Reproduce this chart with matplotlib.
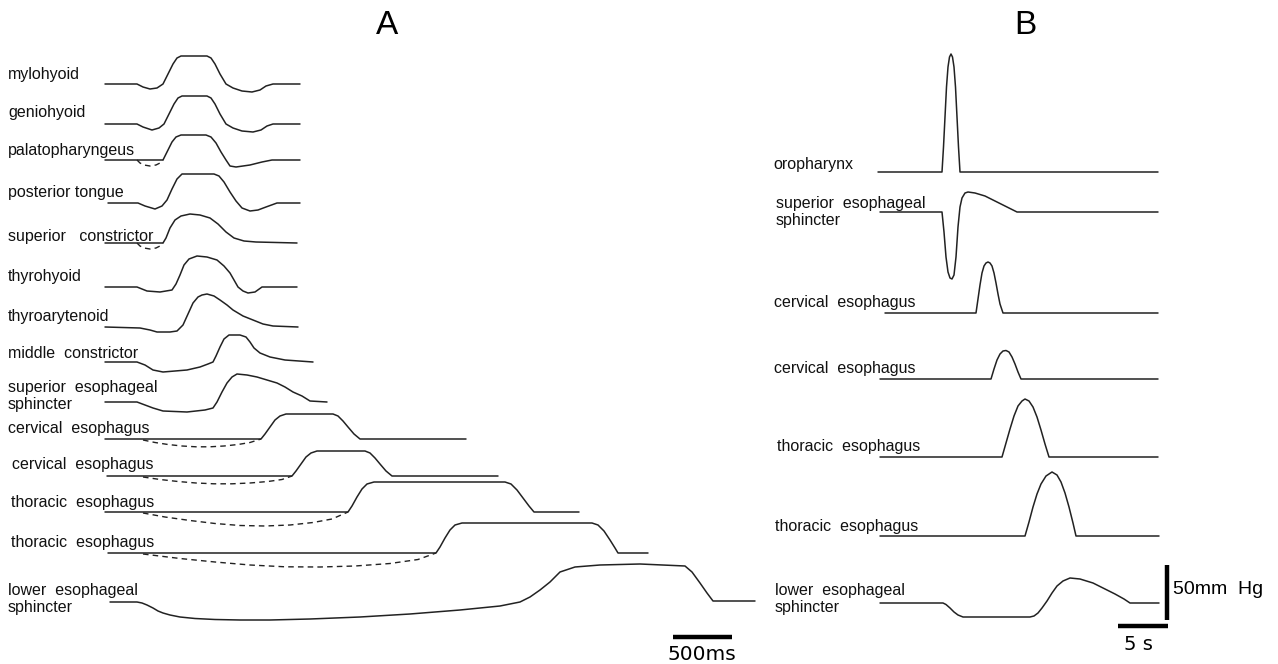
import matplotlib
matplotlib.use('Agg')
import matplotlib.pyplot as plt

plt.rcParams['font.family'] = ['Liberation Sans', 'DejaVu Sans']

# ---- panel A: pressure/EMG traces (x in px-time, amplitude up) ----
a_labels = [
    'mylohyoid', 'geniohyoid', 'palatopharyngeus', 'posterior tongue',
    'superior   constrictor', 'thyrohyoid', 'thyroarytenoid',
    'middle  constrictor', 'superior  esophageal\nsphincter',
    'cervical  esophagus', 'cervical  esophagus', 'thoracic  esophagus',
    'thoracic  esophagus', 'lower  esophageal\nsphincter',
]
a_times = [
    [105, 137, 143, 150, 157, 163, 168, 173, 177, 181, 207, 211, 215, 220, 226, 233, 242, 252, 260, 266, 273, 300],
    [105, 137, 143, 152, 159, 164, 169, 174, 178, 182, 207, 211, 215, 220, 226, 233, 242, 253, 261, 267, 273, 300],
    [105, 163, 167, 172, 176, 181, 206, 211, 216, 221, 226, 230, 236, 250, 262, 272, 300],
    [108, 138, 145, 155, 162, 167, 172, 177, 182, 214, 219, 224, 230, 236, 242, 250, 258, 266, 277, 300],
    [105, 163, 166, 170, 175, 181, 190, 200, 210, 218, 226, 234, 244, 256, 297],
    [105, 137, 147, 160, 172, 176, 180, 184, 189, 197, 207, 217, 224, 230, 234, 238, 243, 248, 255, 262, 297],
    [105, 140, 150, 157, 170, 177, 183, 188, 193, 198, 202, 207, 214, 220, 227, 233, 243, 253, 263, 273, 298],
    [105, 137, 145, 153, 163, 175, 187, 200, 208, 213, 216, 220, 224, 229, 240, 246, 250, 254, 260, 270, 285, 313],
    [105, 137, 145, 153, 163, 187, 205, 213, 217, 222, 227, 232, 237, 247, 257, 267, 277, 285, 293, 302, 310, 327],
    [105, 261, 265, 270, 275, 280, 286, 333, 338, 343, 348, 354, 360, 466],
    [107, 292, 296, 301, 306, 311, 317, 365, 370, 375, 380, 386, 392, 498],
    [105, 348, 352, 357, 362, 367, 374, 505, 511, 517, 523, 529, 534, 579],
    [108, 436, 440, 445, 450, 455, 462, 592, 598, 604, 610, 615, 618, 648],
    [110, 137, 142, 147, 153, 158, 163, 170, 180, 195, 215, 240, 270, 310, 360, 410, 460, 500, 520, 530, 540,
     550, 560, 575, 600, 640, 685, 692, 700, 707, 713, 755],
]
a_values = [
    [0, 0, -3, -5, -4, 0, 10, 20, 26, 28, 28, 26, 20, 10, 0, -4, -7, -8, -6, -2, 0, 0],
    [0, 0, -3, -6, -4, 0, 10, 20, 26, 28, 28, 26, 20, 10, 0, -4, -7, -8, -6, -2, 0, 0],
    [0, 0, 8, 18, 23, 25, 25, 23, 17, 8, 0, -6, -7, -5, -2, 0, 0],
    [0, 0, -3, -6, -3, 3, 14, 24, 29, 29, 27, 21, 11, 2, -5, -8, -7, -4, 0, 0],
    [0, 0, 5, 15, 23, 27, 29, 28, 25, 19, 11, 5, 2, 1, 0],
    [0, 0, -4, -5, -3, 3, 12, 22, 28, 31, 30, 27, 21, 14, 7, 0, -4, -6, -5, 0, 0],
    [0, -1, -3, -5, -5, -4, 2, 13, 24, 30, 32, 33, 31, 27, 22, 17, 11, 7, 3, 1, 0],
    [0, 0, -3, -8, -10, -9, -8, -5, -2, 0, 6, 15, 23, 27, 27, 25, 20, 14, 9, 5, 2, 0],
    [0, 0, -3, -6, -9, -10, -8, -6, 0, 10, 19, 25, 28, 27, 25, 22, 19, 15, 10, 6, 1, 0],
    [0, 0, 5, 12, 19, 23, 25, 25, 23, 18, 12, 5, 0, 0],
    [0, 0, 5, 12, 19, 23, 25, 25, 23, 18, 12, 5, 0, 0],
    [0, 0, 6, 15, 23, 28, 30, 30, 28, 22, 14, 6, 0, 0],
    [0, 0, 6, 15, 23, 28, 30, 30, 28, 22, 13, 5, 0, 0],
    [0, 0, -1, -3, -6, -9, -11, -13, -15, -16.5, -17.5, -18, -18, -17, -15, -12, -8, -4, 0, 5, 12,
     20, 30, 35, 37, 38, 36, 30, 19, 9, 1, 1],
]
# dashed "inhibition" curves, keyed by trace index
a_dash_times = {
    2: [137, 140, 144, 150, 156, 160, 163],
    4: [137, 140, 144, 150, 156, 160, 163],
    9: [143, 155, 168, 182, 196, 210, 224, 238, 250, 261],
    10: [143, 160, 178, 196, 214, 232, 250, 268, 282, 292],
    11: [143, 165, 190, 215, 240, 265, 290, 313, 332, 348],
    12: [143, 180, 215, 250, 285, 320, 355, 390, 418, 436],
}
a_dash_values = {
    2: [0, -3, -5, -6, -5, -3, 0],
    4: [0, -3, -5, -6, -5, -3, 0],
    9: [-1, -3.5, -5.5, -7, -7.8, -7.8, -7, -5.5, -3.5, 0],
    10: [-1, -3.5, -5.5, -7, -7.8, -7.8, -7, -5.5, -3.5, 0],
    11: [-1, -5, -8.5, -11.5, -13.5, -14, -13, -10.5, -7, 0],
    12: [-1, -5.5, -9, -12, -13.8, -14, -13, -10.5, -6.5, 0],
}

# ---- panel B: manometry traces ----
b_labels = [
    'oropharynx', 'superior  esophageal\nsphincter', 'cervical  esophagus',
    'cervical  esophagus', 'thoracic  esophagus', 'thoracic  esophagus',
    'lower  esophageal\nsphincter',
]
b_times = [
    [878, 942, 943.5, 945, 946.5, 948, 949.5, 951, 952.5, 954, 955.5, 957, 958.5, 960, 1158],
    [880, 942, 944, 946, 948, 950, 952, 954, 956, 958, 960, 962, 965, 968, 975, 985, 993, 1005, 1017, 1158],
    [885, 976, 978, 980, 982, 984, 986, 988, 990, 992, 994, 996, 998, 1000, 1003, 1158],
    [880, 991, 994, 997, 1000, 1003, 1006, 1009, 1012, 1015, 1018, 1021, 1158],
    [880, 1002, 1006, 1010, 1014, 1018, 1022, 1025, 1029, 1033, 1037, 1041, 1045, 1049, 1158],
    [880, 1025, 1029, 1033, 1037, 1041, 1046, 1052, 1057, 1061, 1065, 1069, 1073, 1076, 1159],
    [880, 943, 946, 950, 954, 958, 963, 1030, 1034, 1038, 1042, 1047, 1052, 1057, 1063, 1070, 1080, 1093,
     1105, 1115, 1124, 1130, 1159],
]
b_values = [
    [0, 0, 25, 55, 85, 105, 115, 118, 115, 105, 85, 55, 25, 0, 0],
    [0, 0, -20, -45, -60, -66, -67, -63, -45, -15, 5, 14, 19, 20, 19, 16, 12, 6, 0, 0],
    [0, 0, 14, 28, 40, 47, 50, 51, 50, 47, 40, 30, 19, 9, 0, 0],
    [0, 0, 10, 19, 25, 28, 28.5, 27, 22, 15, 7, 0, 0],
    [0, 0, 14, 28, 41, 51, 56, 58, 56, 50, 40, 27, 13, 0, 0],
    [0, 0, 14, 29, 42, 52, 60, 64, 61, 54, 43, 29, 13, 0, 0],
    [0, 0, -1.5, -5, -9, -12, -14, -14, -13, -10, -5, 2, 10, 17, 22, 25, 24, 20, 14, 9, 4, 0, 0],
]

# layout (figure pixels)
a_baselines = [84, 124, 160, 203, 243, 287, 327, 362, 402, 439, 476, 512, 553, 602]
a_label_pos = [(8, 75), (8, 113), (8, 151), (8, 193), (8, 236), (8, 277), (8, 317),
               (8, 354), (8, 396), (8, 428), (12, 465), (11, 502), (11, 543), (8, 599)]
b_baselines = [172, 212, 313, 379, 457, 536, 603]
b_label_pos = [(773, 164), (776, 212), (774, 303), (774, 369), (777, 447), (775, 527), (775, 599)]

W, H = 1278, 664
fig = plt.figure(figsize=(W / 100, H / 100), dpi=100)
ax = fig.add_axes([0, 0, 1, 1])
ax.set_xlim(0, W)
ax.set_ylim(H, 0)
ax.axis('off')

line_kw = dict(color='#222222', lw=1.1, solid_joinstyle='round', solid_capstyle='round')
dash_kw = dict(color='#222222', lw=1.0, linestyle=(0, (4, 3)))
label_kw = dict(fontsize=11.5, va='center', ha='left', color='#111111', linespacing=1.2)

for i, (t, v) in enumerate(zip(a_times, a_values)):
    base = a_baselines[i]
    ax.plot(t, [base - y for y in v], **line_kw)
    if i in a_dash_times:
        ax.plot(a_dash_times[i], [base - y for y in a_dash_values[i]], **dash_kw)
    x, y = a_label_pos[i]
    ax.text(x, y, a_labels[i], **label_kw)

for i, (t, v) in enumerate(zip(b_times, b_values)):
    base = b_baselines[i]
    ax.plot(t, [base - y for y in v], **line_kw)
    x, y = b_label_pos[i]
    ax.text(x, y, b_labels[i], **label_kw)

# panel letters
ax.text(387, 25, 'A', fontsize=24, ha='center', va='center')
ax.text(1025, 25, 'B', fontsize=24, ha='center', va='center')

# scale bars
ax.plot([673, 732], [637, 637], color='black', lw=3.2, solid_capstyle='butt')
ax.text(702, 655, '500ms', fontsize=14.5, ha='center', va='center', family='DejaVu Sans')
ax.plot([1167, 1167], [565, 620], color='black', lw=3.2, solid_capstyle='butt')
ax.plot([1118, 1168], [626, 626], color='black', lw=3.2, solid_capstyle='butt')
ax.text(1173, 590, '50mm  Hg', fontsize=14, ha='left', va='center')
ax.text(1138, 644, '5 s', fontsize=14, ha='center', va='center', family='DejaVu Sans')

fig.savefig('out.png', dpi=100, facecolor='white')
